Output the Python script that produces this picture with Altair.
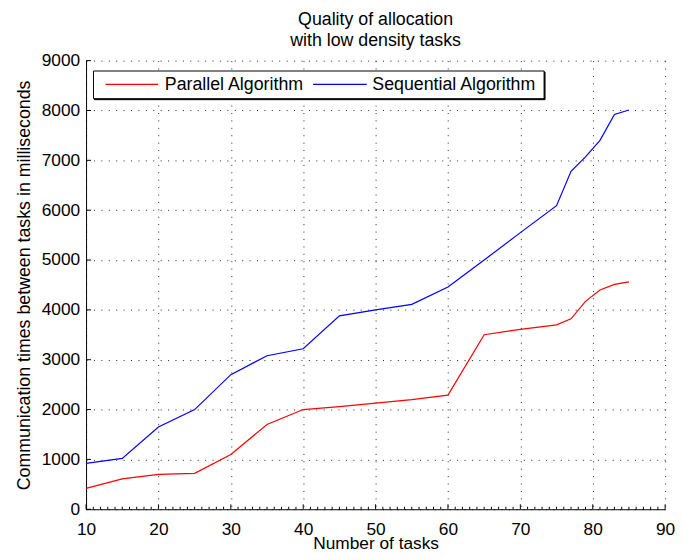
import altair as alt
import pandas as pd

# ---- data ----
tasks = [10, 15, 20, 25, 30, 35, 40, 45, 50, 55, 60, 65, 70, 75, 77, 79, 81, 83, 85]
parallel = [420, 610, 700, 720, 1100, 1700, 2000, 2060, 2130, 2200, 2290, 3500, 3610, 3700, 3820, 4170, 4400, 4510, 4560]
sequential = [920, 1020, 1650, 2000, 2700, 3080, 3220, 3880, 4000, 4110, 4460, 5000, 5550, 6090, 6780, 7070, 7400, 7920, 8010]
series_names = ["Parallel Algorithm", "Sequential Algorithm"]
series_colors = ["#ff0000", "#0000ff"]
x_ticks = [10, 20, 30, 40, 50, 60, 70, 80, 90]
y_ticks = [0, 1000, 2000, 3000, 4000, 5000, 6000, 7000, 8000, 9000]
x_minor = [v for v in range(10, 91) if v % 10 != 0]
title_lines = ["Quality of allocation", "with low density tasks"]
x_title = "Number of tasks"
y_title = "Communication times between tasks in milliseconds"

W, H = 586, 454
FONT = "Liberation Sans"

n = len(tasks)
df = pd.DataFrame({
    "tasks": tasks + tasks,
    "time": parallel + sequential,
    "series": [series_names[0]] * n + [series_names[1]] * n,
})

xscale = alt.Scale(domain=[10, 90], nice=False, zero=False)
yscale = alt.Scale(domain=[0, 9000], nice=False)

xaxis = alt.Axis(values=x_ticks, title=x_title, grid=True, ticks=False, tickSize=0,
                 format="d", labelPadding=12, labelFlush=False, titleX=W / 2, titleY=39.5,
                 titleBaseline="alphabetic", titleAlign="center", titleFontSize=17.5)
yaxis = alt.Axis(values=y_ticks, title=y_title, grid=True, ticks=False, tickSize=0,
                 format="d", labelPadding=6.5, titleX=-57, titleY=H / 2, titleAngle=-90,
                 titleBaseline="alphabetic", titleAlign="center")

lines = alt.Chart(df).mark_line(strokeWidth=1.2).encode(
    x=alt.X("tasks:Q", scale=xscale, axis=xaxis),
    y=alt.Y("time:Q", scale=yscale, axis=yaxis),
    color=alt.Color("series:N", scale=alt.Scale(domain=series_names, range=series_colors), legend=None),
)

# inward ticks
xmaj = alt.Chart(pd.DataFrame({"tasks": x_ticks})).mark_rule(color="black", strokeWidth=1).encode(
    x=alt.X("tasks:Q", scale=xscale, axis=xaxis), y=alt.value(H), y2=alt.value(H - 5))
xmin = alt.Chart(pd.DataFrame({"tasks": x_minor})).mark_rule(color="black", strokeWidth=1).encode(
    x=alt.X("tasks:Q", scale=xscale, axis=xaxis), y=alt.value(H), y2=alt.value(H - 2.5))
ymaj = alt.Chart(pd.DataFrame({"time": y_ticks})).mark_rule(color="black", strokeWidth=1).encode(
    y=alt.Y("time:Q", scale=yscale, axis=yaxis), x=alt.value(0), x2=alt.value(5))

# title as two text lines centred over the plot
title1 = alt.Chart(pd.DataFrame({"line": [title_lines[0]]})).mark_text(
    align="center", baseline="alphabetic", font=FONT, fontSize=18, color="black").encode(
    text="line:N", x=alt.value(W / 2), y=alt.value(-36))
title2 = alt.Chart(pd.DataFrame({"line": [title_lines[1]]})).mark_text(
    align="center", baseline="alphabetic", font=FONT, fontSize=18, color="black").encode(
    text="line:N", x=alt.value(W / 2), y=alt.value(-15))

# legend box
one = pd.DataFrame({"a": [0]})
shadow = alt.Chart(one).mark_rect(fill="black", stroke="black", strokeWidth=1).encode(
    x=alt.value(8.5), x2=alt.value(464.5), y=alt.value(11.5), y2=alt.value(39.5))
box = alt.Chart(one).mark_rect(fill="white", stroke="black", strokeWidth=1).encode(
    x=alt.value(7.5), x2=alt.value(463.5), y=alt.value(10.5), y2=alt.value(38.5))

leg_layers = []
sym_x = [(19.7, 73.0), (229.7, 284.0)]
txt_x = [79.7, 289.7]
for name, col, (a, b), tx in zip(series_names, series_colors, sym_x, txt_x):
    leg_layers.append(
        alt.Chart(one).mark_rule(color=col, strokeWidth=1.2).encode(
            x=alt.value(a), x2=alt.value(b), y=alt.value(24))
    )
    leg_layers.append(
        alt.Chart(pd.DataFrame({"label": [name]})).mark_text(
            align="left", baseline="middle", font=FONT, fontSize=18, color="black").encode(
            text="label:N", x=alt.value(tx), y=alt.value(25))
    )

chart = alt.layer(lines, xmaj, xmin, ymaj, title1, title2, shadow, box, *leg_layers).properties(
    width=W, height=H,
    padding={"left": 79, "top": 50, "right": 10, "bottom": 40},
    autosize=alt.AutoSizeParams(type="none"),
).configure_axis(
    labelFont=FONT, titleFont=FONT, labelFontSize=17.5, titleFontSize=18,
    labelColor="black", titleColor="black", titleFontWeight="normal",
    domainColor="black", domainWidth=1,
    gridColor="#222222", gridOpacity=1, gridWidth=1, gridDash=[1, 6.5],
).configure_view(strokeWidth=0)

chart.save("out.html", embed_options={"renderer": "svg", "actions": False})
